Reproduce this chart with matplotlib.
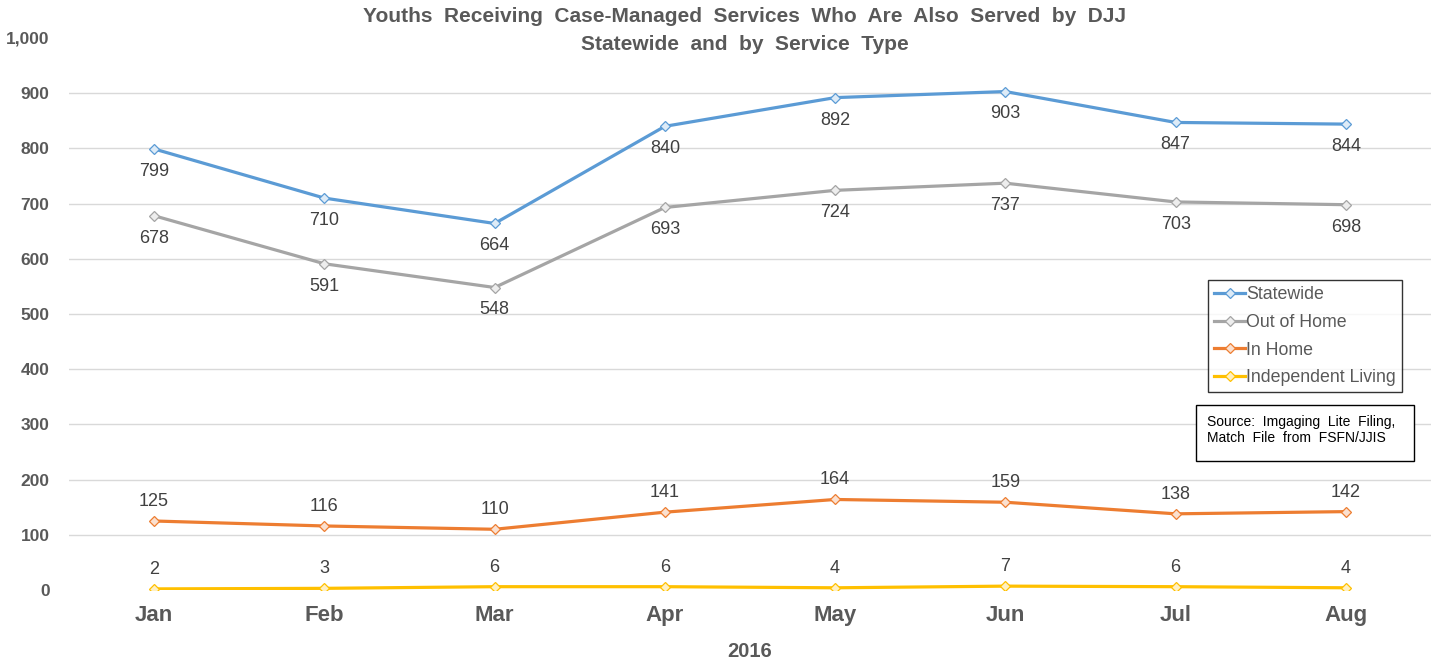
import matplotlib.pyplot as plt
from matplotlib.patches import Rectangle
from matplotlib.ticker import FuncFormatter

plt.rcParams['font.family'] = ['Liberation Sans', 'DejaVu Sans']

months = ['Jan', 'Feb', 'Mar', 'Apr', 'May', 'Jun', 'Jul', 'Aug']
statewide = [799, 710, 664, 840, 892, 903, 847, 844]
out_of_home = [678, 591, 548, 693, 724, 737, 703, 698]
in_home = [125, 116, 110, 141, 164, 159, 138, 142]
independent = [2, 3, 6, 6, 4, 7, 6, 4]

series = [
    ('Statewide', statewide, '#5B9BD5', '#DDEBF7', 'below'),
    ('Out of Home', out_of_home, '#A5A5A5', '#EDEDED', 'below'),
    ('In Home', in_home, '#ED7D31', '#FBE0CF', 'above'),
    ('Independent Living', independent, '#FFC000', '#FFF0C2', 'above'),
]

W, H = 1435, 663
fig = plt.figure(figsize=(W / 100, H / 100), dpi=100)
ax = fig.add_axes([69 / W, 73 / H, 1362 / W, 552 / H])

x = list(range(len(months)))
for name, vals, color, face, pos in series:
    ax.plot(x, vals, color=color, lw=2.3, marker='D', ms=5,
            markerfacecolor=face, markeredgecolor=color, markeredgewidth=0.9,
            label=name, zorder=3)
    for xi, v in zip(x, vals):
        dy = -10 if pos == 'below' else 8
        ax.annotate(str(v), (xi, v), xytext=(0, dy), textcoords='offset points',
                    ha='center', va='top' if pos == 'below' else 'bottom',
                    fontsize=13, color='#404040')

ax.set_xlim(-0.5, 7.5)
ax.set_ylim(0, 1000)
ax.set_yticks(range(0, 1001, 100))
ax.yaxis.set_major_formatter(FuncFormatter(lambda v, p: f'{int(v):,}'))
ax.set_xticks(x)
ax.set_xticklabels(months)
ax.tick_params(axis='x', length=0, pad=11, labelsize=16, labelcolor='#595959')
ax.tick_params(axis='y', length=0, pad=14, labelsize=12.5, labelcolor='#595959')
for lbl in ax.get_xticklabels() + ax.get_yticklabels():
    lbl.set_fontweight('bold')

for v in range(100, 1000, 100):
    ax.axhline(v, color='#D9D9D9', lw=1, zorder=0)
for s in ax.spines.values():
    s.set_visible(False)

ax.set_xlabel('2016', fontsize=14.5, fontweight='bold', color='#595959', labelpad=11)

title_kw = dict(ha='center', va='center', fontsize=15, fontweight='bold', color='#595959')
fig.text(745 / W, 1 - 17 / H,
         'Youths  Receiving  Case-Managed  Services  Who  Are  Also  Served  by  DJJ', **title_kw)
fig.text(745 / W, 1 - 45 / H, 'Statewide  and  by  Service  Type', **title_kw)

leg = ax.legend(loc='upper left', frameon=True, fontsize=12.8, handlelength=1.75,
                handletextpad=0.05, borderpad=0.35, borderaxespad=0,
                labelspacing=0.6, fancybox=False, labelcolor='#595959')
leg.set_bbox_to_anchor(((1208 - 69) / 1362, (590 - 280) / 552), transform=ax.transAxes)
leg.get_frame().set_edgecolor('#000000')
leg.get_frame().set_linewidth(1)

# source note in its own box
fig.patches.append(Rectangle((1196 / W, 1 - 461 / H), 218 / W, 56 / H,
                             transform=fig.transFigure, facecolor='white',
                             edgecolor='#000000', lw=1))
fig.text(1207 / W, 1 - 415 / H, 'Source:  Imgaging  Lite  Filing,\nMatch  File  from  FSFN/JJIS',
         ha='left', va='top', fontsize=10, color='#000000', linespacing=1.15)

fig.savefig('out.png', dpi=100)
